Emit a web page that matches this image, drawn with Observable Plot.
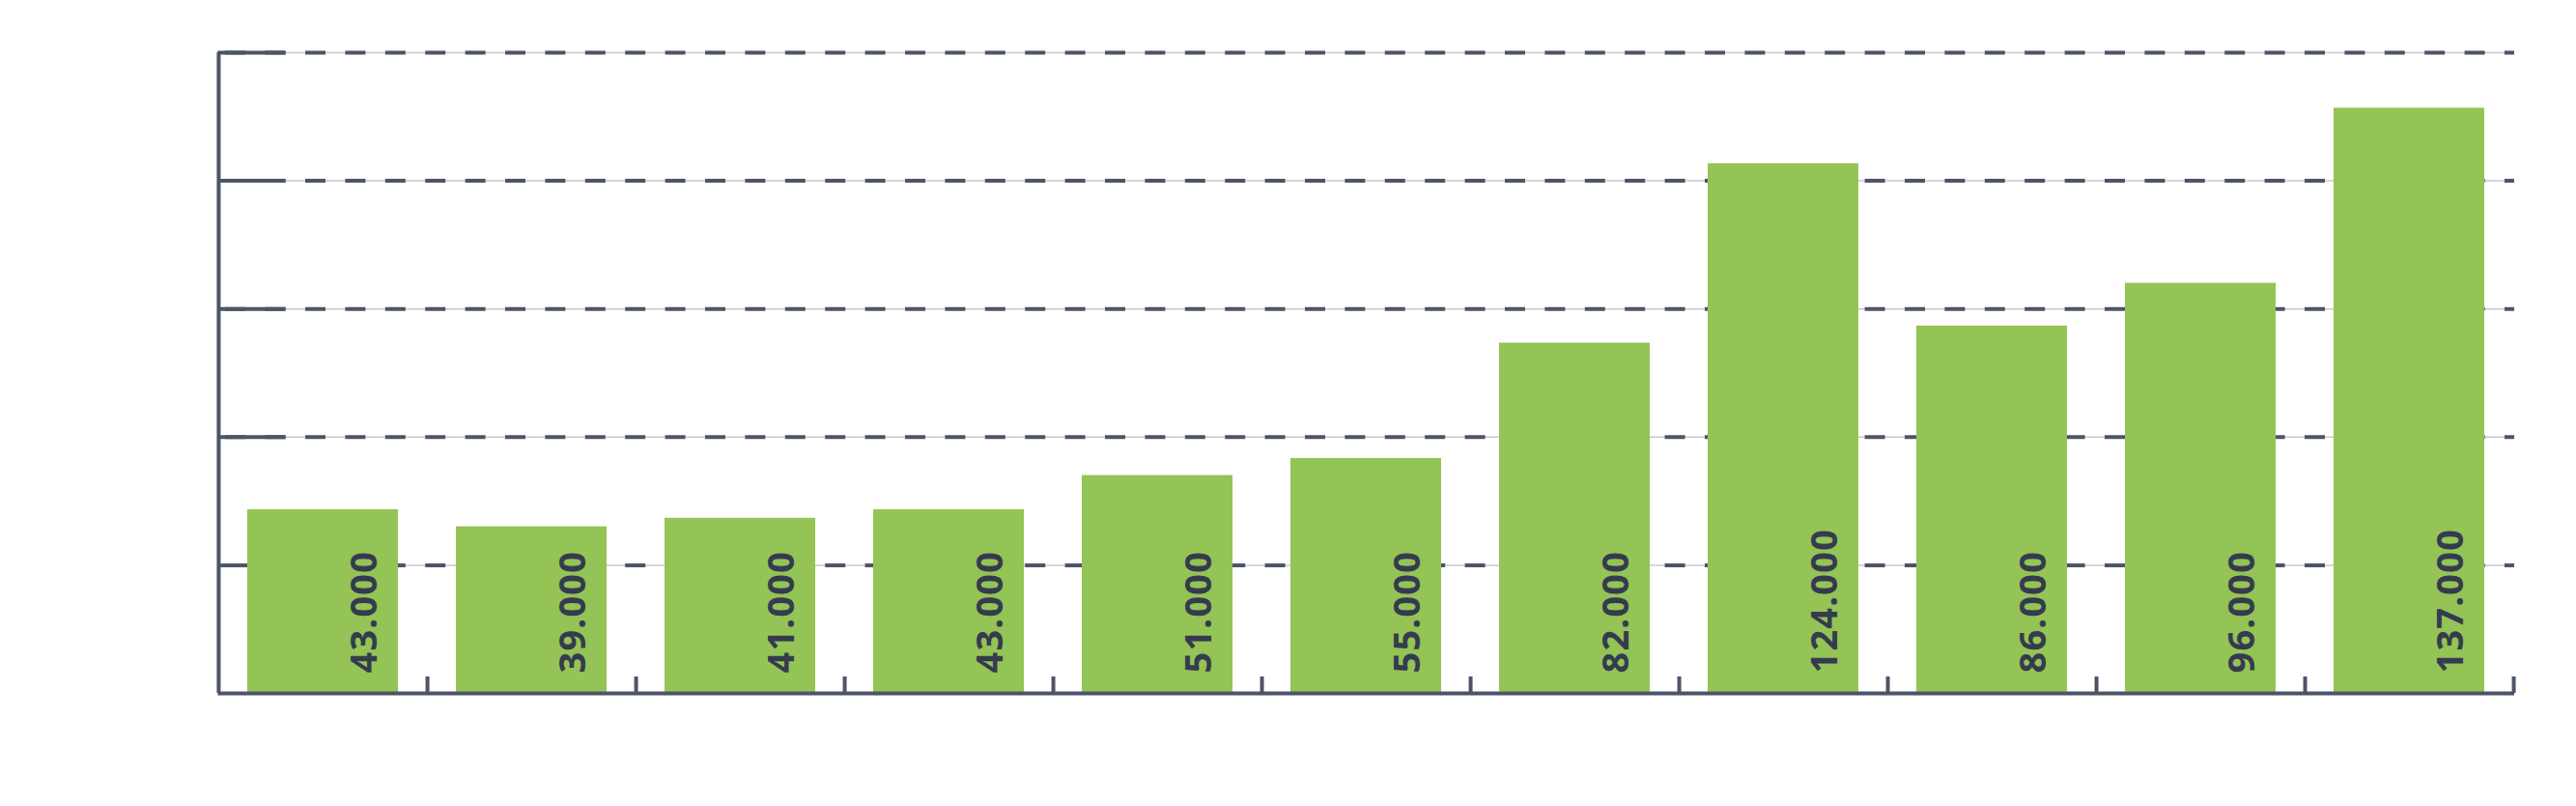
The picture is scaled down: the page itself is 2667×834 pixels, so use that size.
<!DOCTYPE html>
<html><head><meta charset="utf-8">
<script src="https://cdn.jsdelivr.net/npm/d3@7"></script>
<script src="https://cdn.jsdelivr.net/npm/@observablehq/plot@0.6"></script>
<style>body{margin:0;background:#fff} #chart svg text{letter-spacing:1.2px}</style>
</head><body><div id="chart"></div>
<script>
const categories = ["1","2","3","4","5","6","7","8","9","10","11"];
const values = [43000, 39000, 41000, 43000, 51000, 55000, 82000, 124000, 86000, 96000, 137000];
const yTicks = [0, 30000, 60000, 90000, 120000, 150000];
const data = categories.map((c, i) => ({cat: c, value: values[i]}));

const W = 2667, H = 834, mL = 225.5, mR = 64, mT = 54, mB = 117;
const step = (W - mL - mR) / categories.length;
const fmt = d3.formatLocale({decimal: ",", thousands: ".", grouping: [3], currency: ["", ""]}).format(",d");
const axisColor = "#4d546a";

const plot = Plot.plot({
  width: W, height: H,
  marginLeft: mL, marginRight: mR, marginTop: mT, marginBottom: mB,
  x: {type: "band", domain: categories, paddingInner: 0.28, paddingOuter: 0.14, axis: null},
  y: {domain: [0, 150000], axis: null},
  style: {background: "#fff", fontFamily: "Open Sans"},
  marks: [
    Plot.ruleY(yTicks.slice(1), {stroke: "#c8c8cc", strokeWidth: 1.5}),
    Plot.ruleY(yTicks.slice(1), {stroke: axisColor, strokeWidth: 4, strokeDasharray: "21 20.4", strokeDashoffset: 33.7}),
    Plot.ruleY(yTicks.slice(1), {stroke: axisColor, strokeWidth: 4, strokeDasharray: "70 5000"}),
    Plot.barY(data, {x: "cat", y: "value", fill: "#94c356"}),
    Plot.ruleY([0], {stroke: axisColor, strokeWidth: 4}),
    Plot.ruleX(categories, {x: d => d, dx: step / 2, y1: 0, y2: 0, insetTop: -17, stroke: axisColor, strokeWidth: 4}),
    Plot.ruleX([categories[0]], {x: d => d, dx: -step / 2, y1: 0, y2: 150000, stroke: axisColor, strokeWidth: 4}),
    Plot.text(data, {
      x: "cat", y: 0, text: d => fmt(d.value), rotate: -90, textAnchor: "start",
      dx: 43.5, dy: -21, fontSize: 38, fontWeight: 700, fill: "#353b4e"
    })
  ]
});
document.getElementById("chart").appendChild(plot);
</script>
</body></html>
